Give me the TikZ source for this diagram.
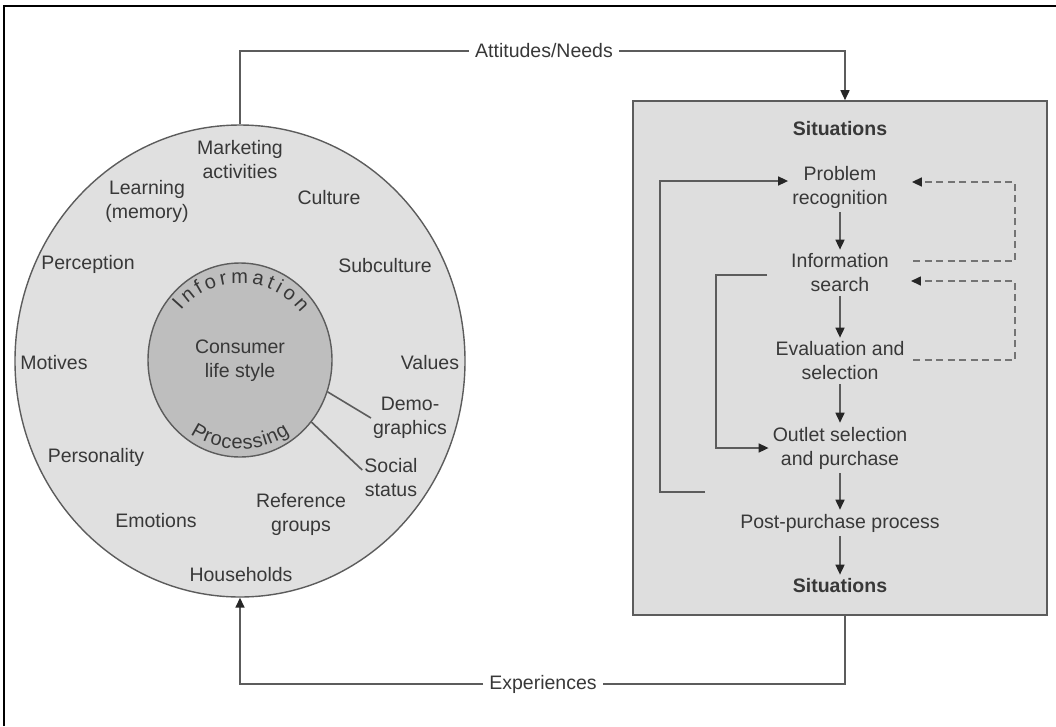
\documentclass[tikz,border=0pt]{standalone}
\usepackage{fontspec}
\setmainfont{Liberation Sans}
\usetikzlibrary{arrows.meta,decorations.text,calc,shapes.geometric}
\definecolor{txt}{HTML}{383838}
\definecolor{ln}{HTML}{5C5C5C}
\definecolor{ringfill}{HTML}{E0E0E0}
\definecolor{corefill}{HTML}{BEBEBE}
\definecolor{boxfill}{HTML}{DEDEDE}
\begin{document}
\begin{tikzpicture}[x=1pt,y=1pt,
  lbl/.style={text=txt,font=\fontsize{19.5}{24}\selectfont,align=center,inner sep=2pt},
  stage/.style={lbl,inner sep=4pt},
  boldlbl/.style={stage,font=\fontsize{19.5}{24}\selectfont\bfseries},
  conn/.style={draw=ln,line width=1.6pt},
  arr/.style={conn,-{Triangle[length=10pt,width=9pt,color=black!85]}},
  fb/.style={arr,draw=ln!85,dash pattern=on 7pt off 4.5pt},
]
\useasboundingbox (0,0) rectangle (1056,-726);
\draw[black,line width=1.6pt] (4,-726) -- (4,-6) -- (1056,-6);

% circles
\node[ellipse,minimum width=450,minimum height=472,fill=ringfill,draw=ln,line width=1.4pt,inner sep=0] (outer) at (240,-361) {};
\node[ellipse,minimum width=184,minimum height=194,fill=corefill,draw=ln,line width=1.4pt,inner sep=0] (inner) at (240,-360) {};
\node[lbl] (core) at (240,-361) {Consumer\\life style};
\path[decoration={text along path,text={|\fontsize{20}{22}\selectfont\color{txt}|Information},text align=fit to path},decorate]
  ($(inner.center)+(140:77)$) arc[start angle=140,end angle=38,radius=77];
\path[decoration={text along path,text={|\fontsize{20}{22}\selectfont\color{txt}|Processing},text align=fit to path},decorate]
  ($(inner.center)+(236:89)$) arc[start angle=236,end angle=304,radius=89];

% ring labels
\node[lbl] (mkt) at (240,-160) {Marketing\\activities};
\node[lbl] (learn) at (147,-201) {Learning\\(memory)};
\node[lbl] (cult) at (329,-198) {Culture};
\node[lbl] (perc) at (88,-264) {Perception};
\node[lbl] (subc) at (385,-266) {Subculture};
\node[lbl] (mot) at (54,-363) {Motives};
\node[lbl] (val) at (430,-363) {Values};
\node[lbl] (demo) at (410,-418) {Demo-\\graphics};
\node[lbl] (pers) at (96,-457) {Personality};
\node[lbl] (soc) at (391,-478) {Social\\status};
\node[lbl] (ref) at (301,-514) {Reference\\groups};
\node[lbl] (emo) at (156,-521) {Emotions};
\node[lbl] (house) at (241,-575) {Households};
\draw[conn] (inner.-20) -- (demo.west);
\draw[conn] (inner.-41) -- ([yshift=8]soc.west);

% process box
\node[draw=ln,fill=boxfill,line width=1.6pt,minimum width=414,minimum height=514,inner sep=0] (box) at (840,-358) {};
\node[boldlbl] (s1) at (840,-129) {Situations};
\node[stage] (prob) at (840,-187) {Problem\\recognition};
\node[stage] (info) at (840,-273) {Information\\search};
\node[stage] (eval) at (840,-361) {Evaluation and\\selection};
\node[stage] (outl) at (840,-448) {Outlet selection\\and purchase};
\node[stage] (post) at (840,-523) {Post-purchase process};
\node[boldlbl] (s2) at (840,-586) {Situations};
\draw[arr] (prob) -- (info);
\draw[arr] (info) -- (eval);
\draw[arr] (eval) -- (outl);
\draw[arr] (outl) -- (post);
\draw[arr] (post) -- (s2);

% feedback loops
\coordinate (fbA) at (705,-492);
\draw[arr] (fbA) -- ++(-45,0) |- ([yshift=6]prob.west);
\coordinate (fbB) at (767,-275);
\draw[arr] (fbB) -- ++(-51,0) |- (outl.west);
\coordinate (dA) at (913,-261);
\draw[fb] (dA) -- ++(102,0) |- ([xshift=20,yshift=5]prob.east);
\coordinate (dB) at (913,-360);
\draw[fb] (dB) -- ++(102,0) |- ([xshift=18,yshift=-8]info.east);

% outer connectors
\node[lbl,inner sep=6pt] (att) at (544,-51) {Attitudes/Needs};
\draw[conn] (outer.north) |- (att.west);
\draw[arr] (att.east) -| ([xshift=5]box.north);
\node[lbl,inner sep=6pt] (exp) at (543,-684) {Experiences};
\draw[conn] ([xshift=5]box.south) |- (exp.east);
\draw[arr] (exp.west) -| (outer.south);
\end{tikzpicture}
\end{document}
